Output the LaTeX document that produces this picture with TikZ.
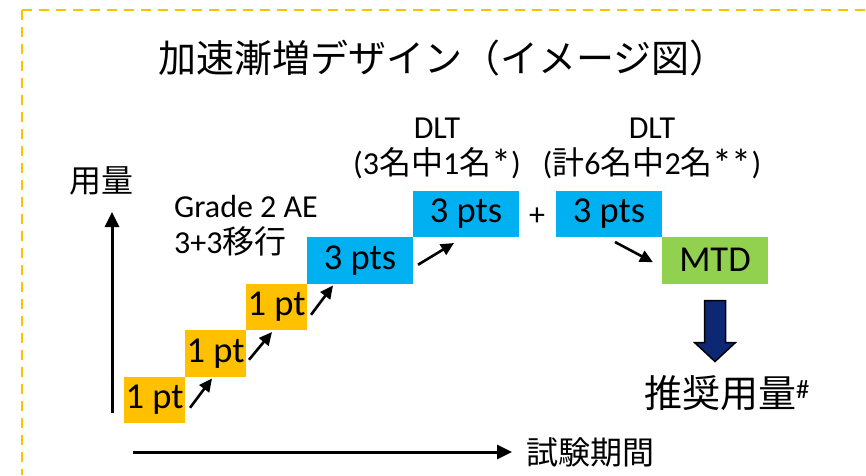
\documentclass[tikz,border=0pt]{standalone}
\usepackage{fontspec}
\setmainfont{Carlito}
\newfontfamily\jp{Noto Sans CJK JP}
\usetikzlibrary{positioning,arrows.meta}
\definecolor{ptorange}{HTML}{FFC000}
\definecolor{ptblue}{HTML}{00B0F0}
\definecolor{mtdgreen}{HTML}{92D050}
\definecolor{doseblue}{RGB}{12,40,116}
\newcommand\dltstar{\raisebox{-3.5pt}{\fontsize{40}{40}\selectfont *}}
\tikzset{
  frame/.style={ptorange, line width=2pt, dash pattern=on 10pt off 7pt},
  axis/.style={line width=3pt, -{Triangle[length=15pt,width=14pt]}},
  steparrow/.style={line width=2.6pt, -{Triangle[length=13pt,width=12pt]}},
  cell/.style={inner sep=0pt, outer sep=0pt, minimum height=46.5pt, font=\fontsize{36.5}{40}\selectfont},
  onept/.style={cell, fill=ptorange, minimum width=61pt},
  threepts/.style={cell, fill=ptblue, minimum width=106pt},
  mtdbox/.style={cell, fill=mtdgreen, minimum width=106pt},
  labeltext/.style={inner sep=0pt, font=\fontsize{32}{36}\selectfont},
  bigtext/.style={inner sep=0pt, font=\fontsize{38}{42}\selectfont},
  blockarrow/.style={draw=black, line width=1.5pt, fill=doseblue, line join=miter}
}
\begin{document}
\begin{tikzpicture}[x=1pt,y=1pt]
\useasboundingbox (0,0) rectangle (866,475);
\draw[frame] (22,465) -- (866,465);
\draw[frame] (22,465) -- (22,0);
\node[bigtext] (title) at (443,417) {\jp 加速漸増デザイン（イメージ図）};
\coordinate (origin) at (112,62);
\coordinate (ytop) at (112,263);
\coordinate (xstart) at (133,23);
\coordinate (xend) at (512,23);
\draw[axis] (origin) -- (ytop);
\draw[axis] (xstart) -- (xend);
\node[labeltext] (ylab) at (101,294) {\jp 用量};
\node[labeltext, anchor=west] (xlab) at ([xshift=14pt]xend) {\jp 試験期間};
\node[onept, anchor=south west] (p1) at (124,52) {1 pt};
\node[onept, above right=0pt and 0pt of p1] (p2) {1 pt};
\node[onept, above right=0pt and 0pt of p2] (p3) {1 pt};
\node[threepts, above right=0pt and 0pt of p3] (c1) {3 pts};
\node[threepts, above right=0pt and 0pt of c1] (c2) {3 pts};
\node[threepts, right=37pt of c2] (c3) {3 pts};
\node[mtdbox, below right=0pt and 0pt of c3] (mtd) {MTD};
\node[labeltext] (plus) at (537,258) {+};
\node[labeltext, align=left, anchor=north west] (grade) at (174,280) {Grade 2 AE\\3+3{\jp 移行}};
\node[labeltext, align=center] (dlt1) at (437,327) {DLT\\(3{\jp 名中}1{\jp 名}\dltstar)};
\node[labeltext, align=center] (dlt2) at (652,327) {DLT\\({\jp 計}6{\jp 名中}2{\jp 名}\dltstar\kern-1pt\dltstar)};
\draw[steparrow] ([shift={(5,-8)}]p1.east) -- ([shift={(27,-2)}]p2.south west);
\draw[steparrow] ([shift={(3,-6.5)}]p2.east) -- ([shift={(26,-2)}]p3.south west);
\draw[steparrow] ([shift={(4,-8)}]p3.east) -- ([shift={(26,-2)}]c1.south west);
\draw[steparrow] ([shift={(5,-4.5)}]c1.east) -- ([shift={(41,-6)}]c2.south west);
\draw[steparrow] ([shift={(6,-5)}]c3.south) -- ([shift={(-9,-2)}]mtd.west);
\draw[blockarrow] ([shift={(-10.5,-17)}]mtd.south) -- ++(21,0) -- ++(0,-42) -- ++(10,0) -- ++(-20.5,-19) -- ++(-20.5,19) -- ++(10,0) -- cycle;
\node[bigtext] (dose) at (727,82) {{\jp 推奨用量}\textsuperscript{\#}};
\end{tikzpicture}
\end{document}
